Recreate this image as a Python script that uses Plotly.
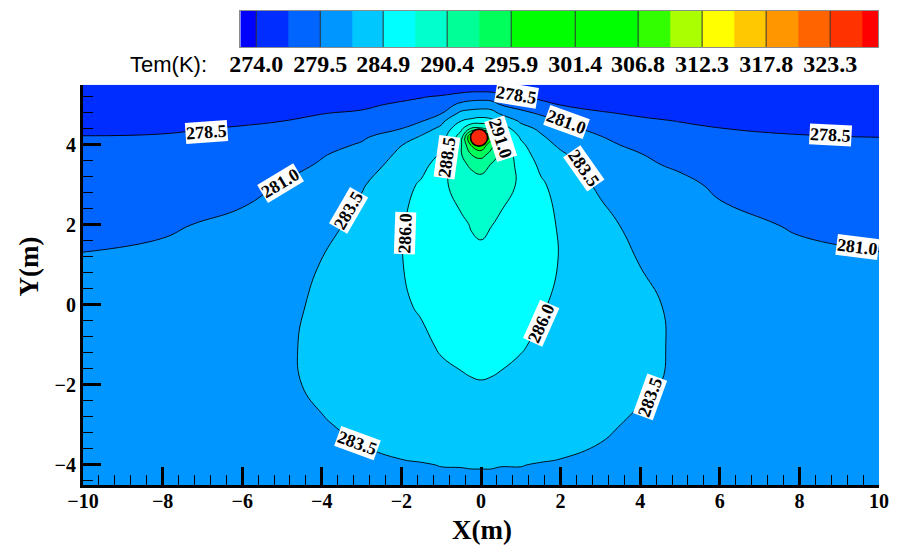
import numpy as np
import plotly.graph_objects as go

# ---------------- data ----------------
x_nodes = [-10, -8, -6, -5, -4, -3, -2, -1.5, -1, -0.5, -0.25, 0, 0.25, 0.5,
           1, 1.5, 2, 3, 4, 5, 6, 8, 10]
y_nodes = [-4.5, -4, -3, -2, -1, 0, 1, 2, 3, 3.5, 3.75, 4.0, 4.2, 4.4, 4.6,
           4.8, 5.0, 5.2, 5.5]

# temperature (K) per x column, listed from the bottom (y=-4.5) to the surface (y=5.5)
temp_by_column = [
    [283.0, 282.9, 282.75, 282.5, 282.2, 281.8, 281.24, 280.49, 279.6, 279.16, 278.93, 278.71, 278.54, 278.25, 277.93, 277.61, 277.3, 276.98, 276.5],   # x=-10
    [283.2, 283.15, 283.0, 282.75, 282.4, 282.0, 281.5, 280.75, 279.77, 279.28, 279.04, 278.79, 278.6, 278.33, 278.0, 277.67, 277.33, 277.0, 276.5],    # x=-8
    [283.15, 283.15, 283.15, 283.1, 283.0, 282.7, 282.2, 281.45, 280.41, 279.78, 279.46, 279.14, 278.88, 278.63, 278.3, 277.9, 277.5, 277.1, 276.5],  # x=-6
    [283.1, 283.15, 283.2, 283.25, 283.2, 283.0, 282.6, 281.95, 281.1, 280.33, 279.92, 279.5, 279.17, 278.83, 278.48, 278.06, 277.61, 277.17, 276.5], # x=-5
    [283.1, 283.2, 283.4, 283.75, 283.95, 283.85, 283.6, 282.64, 281.68, 281.19, 280.88, 280.3, 279.83, 279.37, 278.9, 278.42, 277.87, 277.32, 276.5], # x=-4
    [283.1, 283.25, 283.75, 284.5, 284.95, 285.0, 284.8, 284.3, 283.29, 282.25, 281.73, 281.21, 280.68, 280.03, 279.38, 278.73, 278.09, 277.45, 276.5], # x=-3
    [283.2, 283.4, 284.1, 284.7, 285.3, 285.7, 285.9, 285.8, 285.2, 284.5, 284.0, 283.45, 282.25, 281.02, 280.29, 279.57, 278.86, 278.0, 276.5],      # x=-2
    [283.25, 283.45, 284.2, 284.95, 285.55, 286.25, 286.9, 286.95, 286.3, 285.32, 284.75, 284.18, 283.73, 282.5, 280.8, 280.0, 279.21, 278.38, 276.5], # x=-1.5
    [283.3, 283.52, 284.4, 285.35, 286.25, 287.2, 287.9, 288.1, 288.0, 287.0, 286.25, 285.46, 284.75, 284.04, 282.88, 280.75, 279.75, 278.75, 276.5], # x=-1
    [283.3, 283.53, 284.55, 285.75, 286.45, 287.0, 287.6, 288.1, 289.4, 290.5, 290.8, 290.7, 289.8, 288.0, 285.95, 284.0, 281.63, 279.5, 276.5],      # x=-0.5
    [283.3, 283.55, 284.7, 285.85, 286.6, 287.2, 287.9, 288.6, 290.0, 291.3, 293.4, 296.2, 299.0, 291.5, 286.6, 284.37, 282.14, 279.87, 276.5],      # x=-0.25
    [283.3, 283.55, 284.8, 285.9, 286.7, 287.3, 288.0, 288.8, 290.2, 291.7, 294.5, 298.0, 305.0, 291.5, 287.07, 284.54, 282.37, 279.93, 276.5],      # x=0
    [283.3, 283.55, 284.7, 285.85, 286.6, 287.2, 287.9, 288.55, 289.8, 290.9, 292.5, 294.5, 297.0, 290.5, 286.6, 284.4, 282.2, 279.8, 276.5],        # x=0.25
    [283.3, 283.52, 284.55, 285.75, 286.45, 286.95, 287.5, 288.1, 289.3, 290.2, 290.5, 290.4, 289.4, 287.6, 285.4, 283.0, 280.98, 279.2, 276.5],     # x=0.5
    [283.3, 283.52, 284.35, 285.3, 286.2, 287.3, 287.95, 288.25, 288.2, 287.7, 287.2, 286.5, 285.69, 284.44, 283.1, 281.55, 280.07, 278.64, 276.5],  # x=1
    [283.25, 283.45, 284.2, 284.95, 285.6, 286.2, 287.1, 287.1, 286.4, 285.51, 284.9, 284.3, 283.82, 283.08, 281.9, 280.64, 279.21, 278.0, 276.5],   # x=1.5
    [283.2, 283.4, 284.05, 284.65, 285.2, 285.6, 285.8, 285.65, 285.0, 284.3, 283.85, 283.14, 282.43, 281.71, 280.98, 279.78, 278.46, 277.68, 276.5],# x=2
    [283.1, 283.25, 283.7, 284.55, 285.0, 285.05, 284.85, 284.3, 283.08, 282.25, 281.83, 281.42, 281.08, 280.35, 279.49, 278.63, 277.99, 277.4, 276.5], # x=3
    [283.1, 283.15, 283.3, 283.7, 283.95, 283.85, 283.48, 282.62, 281.75, 281.31, 281.09, 280.55, 279.96, 279.36, 278.77, 278.23, 277.73, 277.24, 276.5], # x=4
    [283.15, 283.2, 283.25, 283.3, 283.25, 283.2, 282.85, 282.25, 281.45, 280.73, 280.21, 279.69, 279.27, 278.85, 278.44, 278.01, 277.58, 277.15, 276.5], # x=5
    [283.2, 283.2, 283.2, 283.15, 283.05, 282.75, 282.25, 281.55, 280.67, 279.9, 279.52, 279.14, 278.84, 278.53, 278.17, 277.8, 277.43, 277.06, 276.5], # x=6
    [283.2, 283.15, 283.0, 282.8, 282.45, 282.05, 281.55, 280.8, 279.79, 279.29, 279.04, 278.78, 278.58, 278.3, 277.98, 277.65, 277.32, 276.99, 276.5],  # x=8
    [283.0, 282.9, 282.75, 282.5, 282.2, 281.8, 281.25, 280.5, 279.59, 279.14, 278.91, 278.68, 278.49, 278.19, 277.88, 277.58, 277.27, 276.96, 276.5],   # x=10
]

level_start = 278.5
level_step = 2.5
level_end = 303.5

pipe_x = [-0.05]
pipe_y = [4.18]

cb_ticks = [274.0, 279.5, 284.9, 290.4, 295.9, 301.4, 306.8, 312.3, 317.8, 323.3]

label_texts = ["278.5", "278.5", "278.5", "281.0", "281.0", "281.0", "283.5",
               "283.5", "283.5", "283.5", "286.0", "286.0", "288.5", "291.0"]

# ---------------- styles / layout helpers ----------------
plot_band_colors = ["rgb(0,45,255)", "rgb(0,100,255)", "rgb(0,150,255)",
                    "rgb(0,200,255)", "rgb(0,255,255)", "rgb(0,255,205)",
                    "rgb(0,255,150)", "rgb(0,255,90)", "rgb(0,255,0)",
                    "rgb(0,255,0)", "rgb(0,255,0)", "rgb(0,255,0)"]
cb_colors = ["rgb(0,0,255)", "rgb(0,45,255)", "rgb(0,100,255)", "rgb(0,150,255)",
             "rgb(0,200,255)", "rgb(0,255,255)", "rgb(0,255,205)", "rgb(0,255,150)",
             "rgb(0,255,90)", "rgb(0,255,0)", "rgb(0,255,0)", "rgb(0,255,0)",
             "rgb(0,255,0)", "rgb(50,255,0)", "rgb(170,255,0)", "rgb(255,255,0)",
             "rgb(255,200,0)", "rgb(255,150,0)", "rgb(255,100,0)", "rgb(255,50,0)",
             "rgb(255,0,0)"]

# label placement (x, y, angle) along the contour lines
label_spots = [(-6.9, 4.33, -4), (0.89, 5.24, 9), (8.79, 4.24, 3),
               (-5.03, 3.05, -31), (2.15, 4.57, 20), (9.46, 1.45, 7),
               (-3.32, 2.37, -60), (2.57, 3.41, 55), (4.24, -2.29, -70),
               (-3.11, -3.45, 20), (-1.9, 1.79, -88), (1.52, -0.46, -66),
               (-0.86, 3.7, -82), (0.48, 4.16, 72)]

z = np.array(temp_by_column).T

n_levels = int(round((level_end - level_start) / level_step)) + 1
contour_cs = [[j / n_levels, c] for j, c in enumerate(plot_band_colors)]

serif = "Liberation Serif"

fig = go.Figure()

fig.add_trace(go.Contour(
    x=x_nodes, y=y_nodes, z=z,
    contours=dict(start=level_start, end=level_end, size=level_step,
                  coloring="fill", showlabels=False),
    colorscale=contour_cs, showscale=False,
    line=dict(color="black", width=0.9, smoothing=1.3),
    hoverinfo="skip", xaxis="x", yaxis="y",
))

fig.add_trace(go.Scatter(
    x=pipe_x, y=pipe_y, mode="markers",
    marker=dict(size=17, color="rgb(250,40,10)", line=dict(color="black", width=1.6)),
    hoverinfo="skip", xaxis="x", yaxis="y",
))

# colour legend bar
half = (cb_ticks[-1] - cb_ticks[0]) / (2 * (len(cb_ticks) - 1))
inner = [cb_ticks[0] + k * half for k in range(2 * len(cb_ticks))]
cb_edges = [cb_ticks[0] - half / 2] + inner + [inner[-1] + half / 2]
n_cb = len(cb_colors)
cb_cs = [[i / (n_cb - 1), c] for i, c in enumerate(cb_colors)]
fig.add_trace(go.Heatmap(
    x=cb_edges, y=[0, 1], z=[list(range(n_cb))],
    colorscale=cb_cs, zmin=0, zmax=n_cb - 1, showscale=False,
    hoverinfo="skip", xaxis="x2", yaxis="y2",
))
sx, sy = [], []
for t in cb_ticks:
    sx += [t, t, None]
    sy += [0, 1, None]
fig.add_trace(go.Scatter(x=sx, y=sy, mode="lines",
                         line=dict(color="#333333", width=1),
                         hoverinfo="skip", xaxis="x2", yaxis="y2"))

W, H = 899, 550
ml, mr, mt, mb = 83, 18, 10, 65
pw, ph = W - ml - mr, H - mt - mb


def px_x(p):
    return (p - ml) / pw


def px_y(p):
    return (H - mb - p) / ph


annotations = []
for txt, (lx, ly, ang) in zip(label_texts, label_spots):
    annotations.append(dict(
        x=lx, y=ly, xref="x", yref="y", text=txt, showarrow=False,
        xanchor="center", yanchor="middle",
        textangle=ang, bgcolor="white", borderpad=0,
        font=dict(family=serif, size=18, color="black", weight="bold"),
    ))

annotations += [
    dict(x=px_x(483), y=px_y(530), xref="paper", yref="paper", text="X(m)",
         xanchor="center", yanchor="middle", showarrow=False,
         font=dict(family=serif, size=27, color="black", weight="bold")),
    dict(x=px_x(29), y=px_y(266), xref="paper", yref="paper", text="Y(m)",
         xanchor="center", yanchor="middle", textangle=-90, showarrow=False,
         font=dict(family=serif, size=27, color="black", weight="bold")),
    dict(x=px_x(209), y=px_y(64), xref="paper", yref="paper", text="Tem(K):",
         xanchor="right", yanchor="middle", showarrow=False,
         font=dict(family="Liberation Sans", size=22, color="black")),
]

axis_common = dict(
    showgrid=False, zeroline=False, showline=True, linecolor="black", linewidth=3,
    ticks="inside", ticklen=18, tickwidth=3, tickcolor="black",
    tickfont=dict(family=serif, size=20, color="black", weight="bold"),
    minor=dict(ticks="inside", ticklen=10, tickwidth=1, tickcolor="black",
               tick0=0, dtick=0.4, showgrid=False),
    tickmode="linear", tick0=0, dtick=2,
)

fig.update_layout(
    width=W, height=H,
    margin=dict(l=ml, r=mr, t=mt, b=mb),
    paper_bgcolor="white", plot_bgcolor="white", showlegend=False,
    xaxis=dict(domain=[0, 1], range=[-10, 10], anchor="y", ticklabelstandoff=-4,
               **axis_common),
    yaxis=dict(domain=[0, px_y(84)], range=[-4.5, 5.5], anchor="x", **axis_common),
    xaxis2=dict(domain=[px_x(240.7), px_x(880)], range=[cb_edges[0], cb_edges[-1]],
                anchor="y2", showgrid=False, zeroline=False, showline=True, mirror=True,
                linecolor="#8c8c8c", linewidth=1, tickmode="array", tickvals=cb_ticks,
                ticktext=[f"{t:.1f}" for t in cb_ticks], ticks="",
                ticklabelstandoff=-5,
                tickfont=dict(family=serif, size=24, color="black", weight="bold")),
    yaxis2=dict(domain=[px_y(46), 1], range=[0, 1], anchor="x2", showgrid=False,
                zeroline=False, showline=True, mirror=True, linecolor="#8c8c8c",
                linewidth=1, showticklabels=False, ticks=""),
    annotations=annotations,
)

fig.write_html("out.html")
